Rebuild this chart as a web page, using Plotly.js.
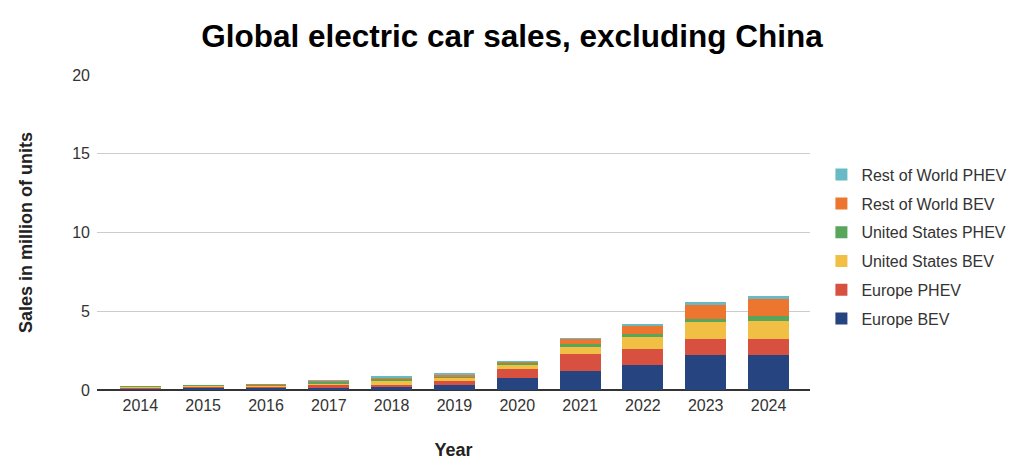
<!DOCTYPE html>
<html>
<head>
<meta charset="utf-8">
<script src="https://cdn.plot.ly/plotly-3.0.1.min.js"></script>
<style>html,body{margin:0;padding:0;background:#fff;}#chart{width:1024px;height:475px;}</style>
</head>
<body>
<div id="chart"></div>
<script>
const years = ["2014","2015","2016","2017","2018","2019","2020","2021","2022","2023","2024"];
const europeBEV   = [0.06, 0.10, 0.10, 0.15, 0.19, 0.34, 0.78, 1.19, 1.61, 2.21, 2.21];
const europePHEV  = [0.04, 0.08, 0.09, 0.15, 0.15, 0.23, 0.58, 1.08, 1.02, 1.00, 1.00];
const usBEV       = [0.07, 0.07, 0.07, 0.06, 0.25, 0.19, 0.21, 0.49, 0.75, 1.08, 1.19];
const usPHEV      = [0.07, 0.04, 0.06, 0.17, 0.10, 0.08, 0.13, 0.19, 0.19, 0.23, 0.33];
const rowBEV      = [0.01, 0.02, 0.03, 0.02, 0.10, 0.10, 0.10, 0.26, 0.49, 0.89, 1.02];
const rowPHEV     = [0.01, 0.01, 0.02, 0.06, 0.08, 0.15, 0.07, 0.10, 0.16, 0.15, 0.22];

const seriesNames = ["Europe BEV","Europe PHEV","United States BEV","United States PHEV","Rest of World BEV","Rest of World PHEV"];
const seriesValues = [europeBEV, europePHEV, usBEV, usPHEV, rowBEV, rowPHEV];
const seriesColors = ["#264480","#d75040","#f1bf43","#58a55c","#ec762f","#68bbc4"];

const traces = seriesNames.map((n, i) => ({
  type: "bar",
  name: n,
  x: years,
  y: seriesValues[i],
  legendgroup: "g" + i,
  legendrank: 1000 - i,
  marker: {color: seriesColors[i], line: {width: 0}},
  hoverinfo: "x+y+name"
}));

const layout = {
  width: 1024, height: 475,
  barmode: "stack",
  bargap: 0.35,
  paper_bgcolor: "#fff", plot_bgcolor: "#fff",
  font: {family: "Liberation Sans, Arial, sans-serif", color: "#333"},
  margin: {l: 97, r: 214, t: 75, b: 85},
  title: {text: "<b>Global electric car sales, excluding China</b>", x: 0.5, xref: "container", xanchor: "center", y: 0.925, yanchor: "middle",
          font: {size: 31.5, color: "#000", family: "Liberation Sans, Arial, sans-serif"}},
  xaxis: {
    type: "category",
    range: [-0.69, 10.66],
    title: {text: "<b>Year</b>", font: {size: 18, color: "#222"}, standoff: 30},
    tickfont: {size: 16, color: "#333"},
    showgrid: false,
    showline: false,
    ticks: "",
    ticklabelstandoff: 4
  },
  yaxis: {
    range: [0, 20],
    tickvals: [0, 5, 10, 15, 20],
    title: {text: "<b>Sales in million of units</b>", font: {size: 18, color: "#222"}, standoff: 34},
    tickfont: {size: 16, color: "#333"},
    gridcolor: "#cccccc",
    gridwidth: 1,
    zeroline: true,
    zerolinecolor: "#333",
    zerolinewidth: 2,
    ticks: "",
    ticklabelstandoff: 6
  },
  legend: {
    x: 1.016, xanchor: "left",
    y: 0.455, yanchor: "middle",
    traceorder: "grouped",
    tracegroupgap: 5,
    font: {size: 16, color: "#333"},
    itemwidth: 30
  },
  showlegend: true
};

Plotly.newPlot("chart", traces, layout, {displayModeBar: false, staticPlot: true});
</script>
</body>
</html>
